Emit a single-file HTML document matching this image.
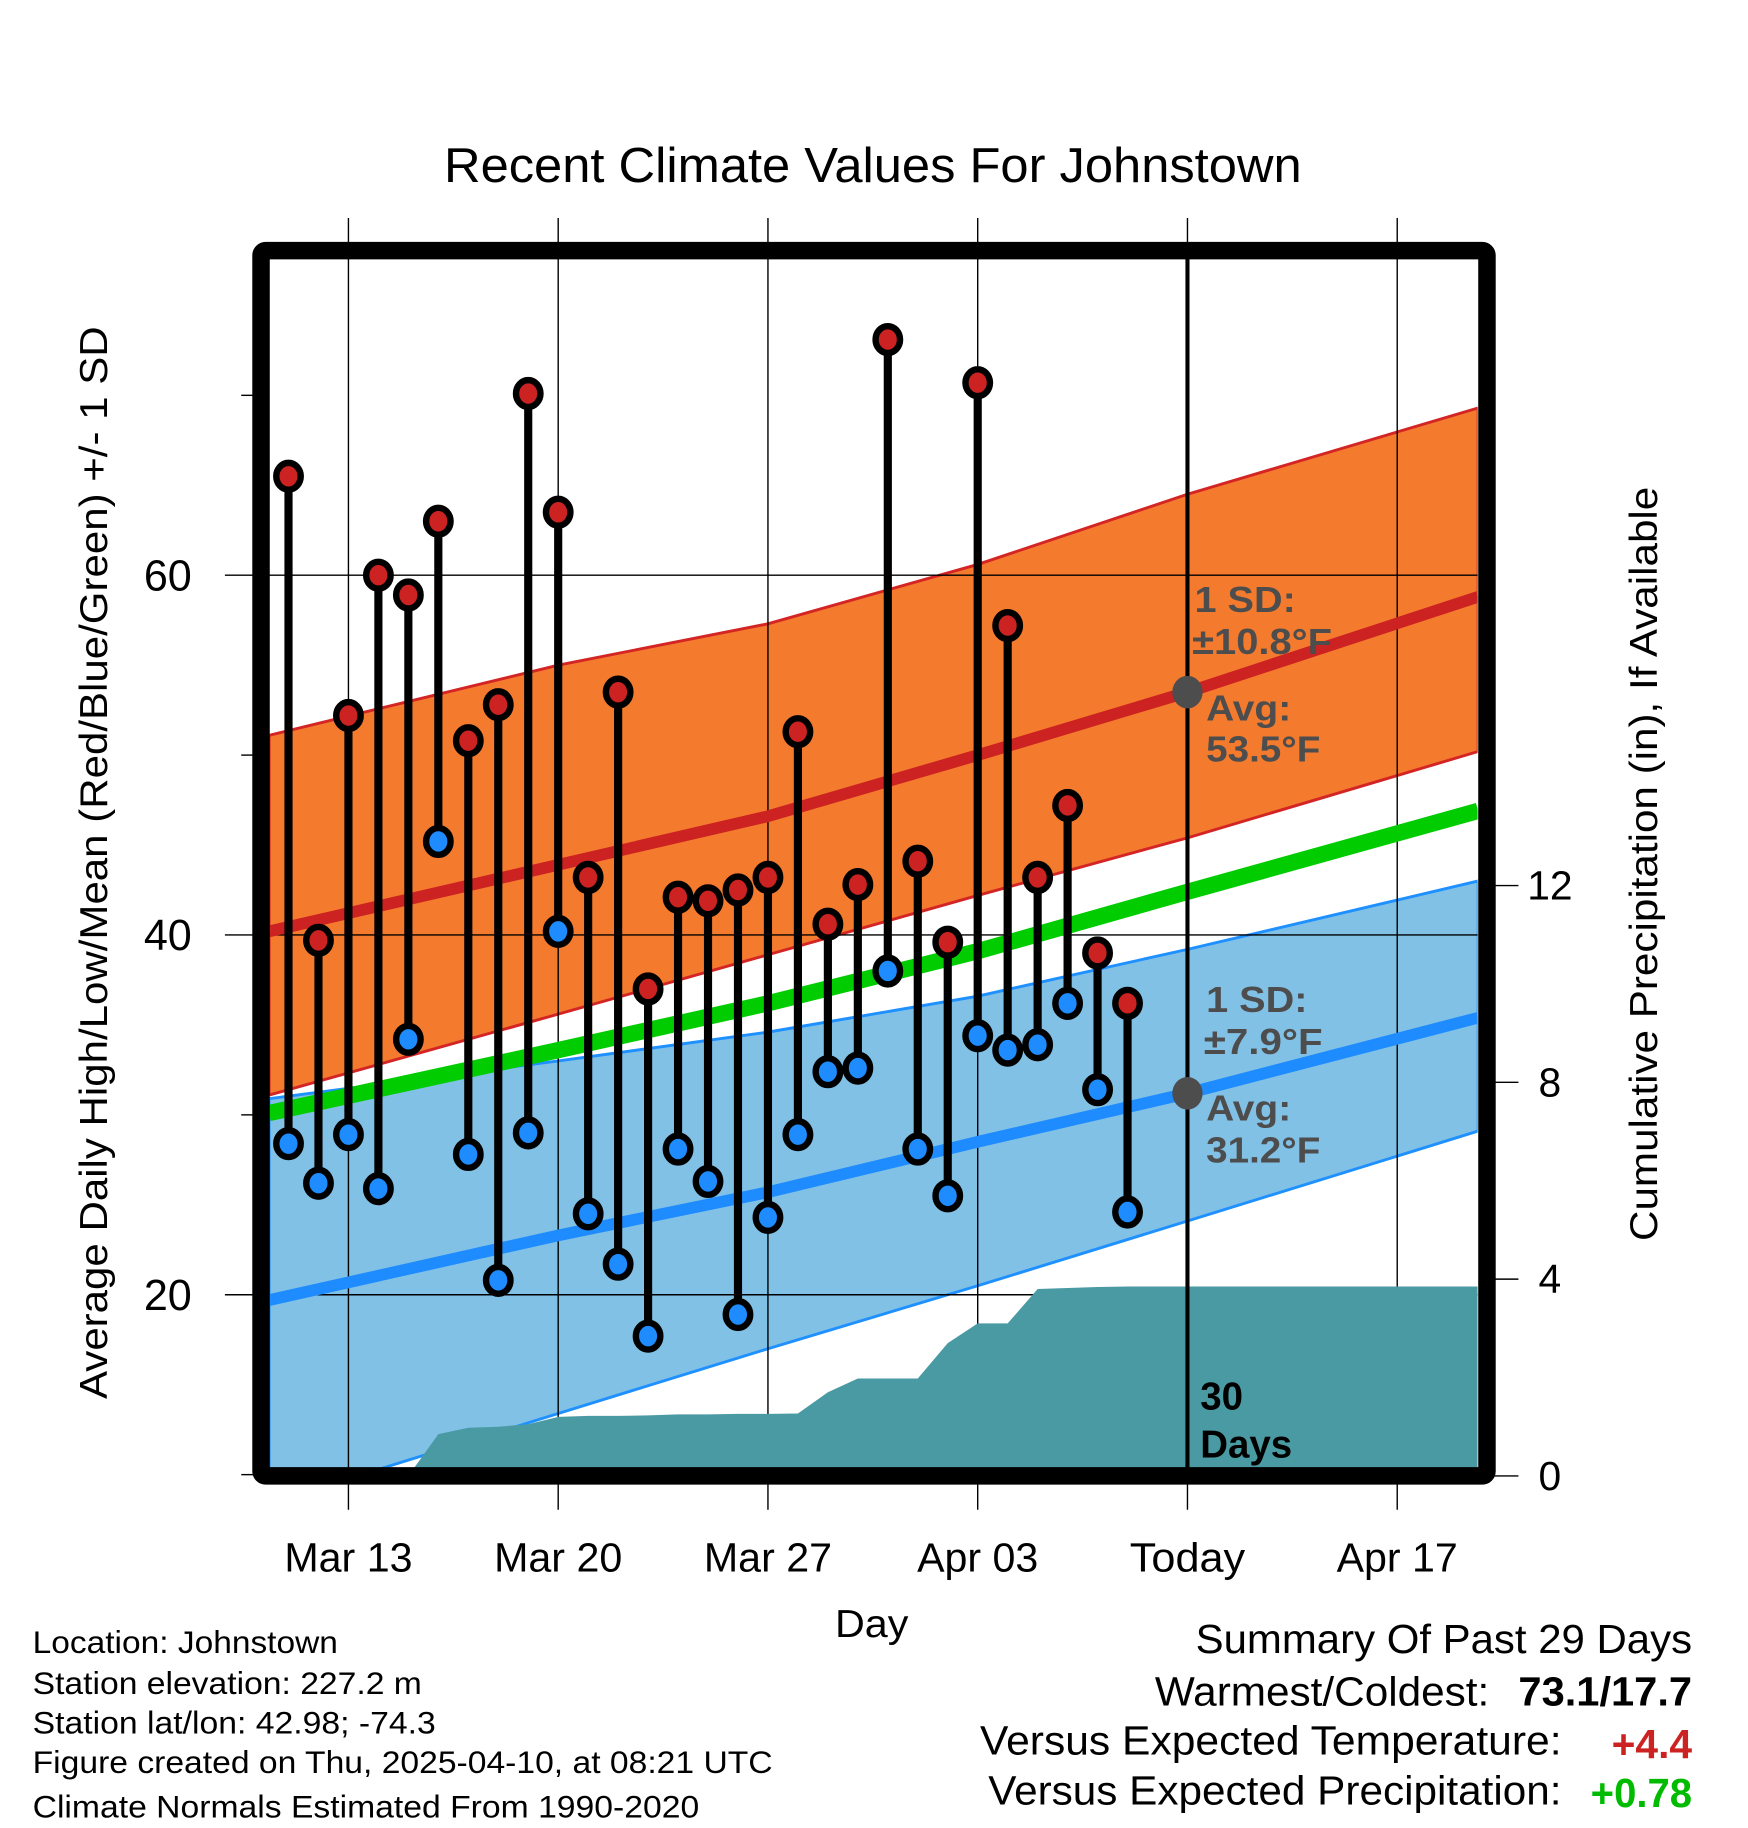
<!DOCTYPE html>
<html><head><meta charset="utf-8"><style>
html,body{margin:0;padding:0;background:#fff;}
svg{display:block;font-family:"Liberation Sans",Arial,sans-serif;}
</style></head><body>
<svg id="chart" width="1748" height="1828" viewBox="0 0 1500 1568" preserveAspectRatio="none" xmlns="http://www.w3.org/2000/svg">
<g id="bands"></g>
<g id="grid"></g>
<g id="precip"></g>
<g id="lines"></g>
<g id="stems"></g>
<g id="annot"></g>
<g id="frame"></g>
<g id="labels"></g>
</svg>
<script>
// ---- data ----
const dayLabels = ["Mar 11","Mar 12","Mar 13","Mar 14","Mar 15","Mar 16","Mar 17","Mar 18","Mar 19","Mar 20","Mar 21","Mar 22","Mar 23","Mar 24","Mar 25","Mar 26","Mar 27","Mar 28","Mar 29","Mar 30","Mar 31","Apr 01","Apr 02","Apr 03","Apr 04","Apr 05","Apr 06","Apr 07","Apr 08"];
const dayIndex = [1,2,3,4,5,6,7,8,9,10,11,12,13,14,15,16,17,18,19,20,21,22,23,24,25,26,27,28,29];
const highs = [65.5,39.7,52.2,60.0,58.9,63.0,50.8,52.8,70.1,63.5,43.2,53.5,37.0,42.1,41.9,42.5,43.2,51.3,40.6,42.8,73.1,44.1,39.6,70.7,57.2,43.2,47.2,39.0,36.2];
const lows = [28.4,26.2,28.9,25.9,34.2,45.2,27.8,20.8,29.0,40.2,24.5,21.7,17.7,28.1,26.3,18.9,24.3,28.9,32.4,32.6,38.0,28.1,25.5,34.4,33.6,33.9,36.2,31.4,24.6];
const precipCum = [0,0,0,0,0,0.85,0.98,1.0,1.05,1.2,1.22,1.22,1.23,1.25,1.25,1.26,1.26,1.27,1.7,1.98,1.98,1.98,2.7,3.1,3.1,3.8,3.82,3.84,3.85];
const normDays = [0.35,10,17,24,31,40.7];
const highNormal = [40.2,43.9,46.6,50.0,53.5,58.8];
const highUpper = [51.1,55.0,57.3,60.6,64.5,69.3];
const highLower = [31.1,35.6,38.9,42.2,45.4,50.2];
const lowNormal = [19.7,23.3,25.7,28.5,31.2,35.4];
const lowUpper = [30.9,33.0,34.6,36.6,39.2,43.0];
const lowLower = [8.4,13.4,17.0,20.5,24.1,29.1];
const meanNormal = [30.1,33.6,36.2,39.1,42.4,46.9];
const xTickDays = [3,10,17,24,31,38];
const xTickLabels = ["Mar 13","Mar 20","Mar 27","Apr 03","Today","Apr 17"];
const yTicks = [20,40,60];
const yMinor = [10,30,50,70];
const pTicks = [0,4,8,12];

// ---- axes ----
const L=231,R=1268,T=222,B=1259;
const xs = d => 299 + (d-3)*25.714;
const ys = t => 802 - (t-40)*15.43;
const yp = p => 1266 - p*42.2;
const NS="http://www.w3.org/2000/svg";
function mk(tag, attrs, parent){const e=document.createElementNS(NS,tag);for(const k in attrs)e.setAttribute(k,attrs[k]);parent.appendChild(e);return e;}
const G = id => document.getElementById(id);

function bandPath(up,lo){
  let d="M"+normDays.map((n,i)=>xs(n)+","+ys(up[i])).join(" L");
  for(let i=normDays.length-1;i>=0;i--) d+=" L"+xs(normDays[i])+","+ys(lo[i]);
  return d+"Z";
}
function linePts(v){return normDays.map((n,i)=>xs(n)+","+ys(v[i])).join(" ");}

const clip = mk("clipPath",{id:"pc"},G("chart")); mk("rect",{x:L,y:T,width:R-L,height:B-T},clip);
G("bands").setAttribute("clip-path","url(#pc)");
G("lines").setAttribute("clip-path","url(#pc)");

let e;
e=mk("path",{d:bandPath(highUpper,highLower),fill:"#f47a2e",stroke:"#d42525","stroke-width":2.5},G("bands"));


e=mk("path",{d:bandPath(lowUpper,lowLower),fill:"#82c1e6",stroke:"#1e90ff","stroke-width":2.5},G("bands"));



// grid
xTickDays.forEach((d,i)=>{
  e=mk("line",{x1:xs(d),x2:xs(d),y1:187,y2:1295,stroke:"#000","stroke-width":1.2},G("grid"));
  
  
});
yTicks.forEach(t=>{
  e=mk("line",{x1:193,x2:R,y1:ys(t),y2:ys(t),stroke:"#000","stroke-width":1.2},G("grid"));
  
  
});
yMinor.forEach(t=>{
  e=mk("line",{x1:207,x2:220,y1:ys(t),y2:ys(t),stroke:"#000","stroke-width":1.2},G("grid"));
  
  
});
pTicks.forEach(p=>{
  e=mk("line",{x1:1282,x2:1303,y1:yp(p),y2:yp(p),stroke:"#000","stroke-width":1.2},G("grid"));
  
  
  e=mk("text",{x:1330,y:yp(p)+12,"font-size":35,"text-anchor":"middle"},G("labels"));
  e.textContent=p;
  
  
});

// precip area
let pd="M"+L+","+yp(0)+" L"+xs(dayIndex[0])+","+yp(precipCum[0]);
dayIndex.forEach((d,i)=>{pd+=" L"+xs(d)+","+yp(precipCum[i]);});
pd+=" L"+R+","+yp(precipCum[precipCum.length-1])+" L"+R+","+B+" L"+L+","+B+"Z";
e=mk("path",{d:pd,fill:"#4a9aa3"},G("precip"));


G("precip").setAttribute("clip-path","url(#pc)");

// normal lines
e=mk("polyline",{points:linePts(meanNormal),fill:"none",stroke:"#00cc00","stroke-width":14},G("lines"));


e=mk("polyline",{points:linePts(highNormal),fill:"none",stroke:"#cc2222","stroke-width":10},G("lines"));


e=mk("polyline",{points:linePts(lowNormal),fill:"none",stroke:"#1e8cff","stroke-width":10},G("lines"));



// today line
e=mk("line",{x1:xs(31),x2:xs(31),y1:T,y2:B,stroke:"#000","stroke-width":3.5},G("lines"));



// stems + markers
dayIndex.forEach((d,i)=>{
  const x=xs(d);
  e=mk("line",{x1:x,x2:x,y1:ys(highs[i]),y2:ys(lows[i]),stroke:"#000","stroke-width":7},G("stems"));
  
  
  e=mk("ellipse",{cx:x,cy:ys(highs[i]),rx:10.5,ry:11.5,fill:"#cc2222",stroke:"#000","stroke-width":5.5},G("stems"));
  
  
  e=mk("ellipse",{cx:x,cy:ys(lows[i]),rx:10.5,ry:11.5,fill:"#1e8cff",stroke:"#000","stroke-width":5.5},G("stems"));
  
  
});

// annotations
const ax=xs(31);
[[53.5,'high-avg-dot'],[31.2,'low-avg-dot']].forEach(a=>{
  e=mk("ellipse",{cx:ax,cy:ys(a[0]),rx:13,ry:14,fill:"#4d4d4d"},G("annot"));
  
  
});
const ann=[[1025,525,"1 SD:",87],[1023,561,"±10.8°F",120],[1035,618,"Avg:",73],[1035,653,"53.5°F",98],[1035,868,"1 SD:",87],[1033,904,"±7.9°F",102],[1035,961,"Avg:",73],[1035,997,"31.2°F",98]];
ann.forEach(a=>{
  e=mk("text",{x:a[0],y:a[1],"font-size":31,"font-weight":"bold",fill:"#4d4d4d",textLength:a[3],lengthAdjust:"spacingAndGlyphs"},G("annot"));
  e.textContent=a[2];
  
  
});
[[1030,1209,"30"],[1030,1250,"Days"]].forEach(a=>{
  e=mk("text",{x:a[0],y:a[1],"font-size":33,"font-weight":"bold",fill:"#000"},G("annot"));
  e.textContent=a[2];
  
  
});

// frame
e=mk("rect",{x:224,y:215,width:1052,height:1051,fill:"none",stroke:"#000","stroke-width":15,rx:4},G("frame"));



function txt(x,y,s,str,name,extra,len){
  const a=Object.assign({x:x,y:y,"font-size":s},extra||{});
  if(len){a.textLength=len;a.lengthAdjust="spacingAndGlyphs";}
  const t=mk("text",a,G("labels"));t.textContent=str;
  
  
  return t;
}
// x tick labels
const xTickLen=[110,110,110,104,99,104];
xTickDays.forEach((d,i)=>{
  txt(xs(d),1348,35,xTickLabels[i],"x-tick-label",{"text-anchor":"middle"},xTickLen[i]);
});
yTicks.forEach(t=>{
  txt(144,ys(t)+13,37,String(t),"y-tick-label",{"text-anchor":"middle"});
});

txt(749,156,42,"Recent Climate Values For Johnstown","chart-title",{"text-anchor":"middle"},736);
txt(0,0,33,"Average Daily High/Low/Mean (Red/Blue/Green) +/- 1 SD","y-axis-title",{"text-anchor":"middle",transform:"translate(92,740) rotate(-90)"},920);
txt(0,0,33,"Cumulative Precipitation (in), If Available","y2-axis-title",{"text-anchor":"middle",transform:"translate(1422,741) rotate(-90)"},647);
txt(748,1404,33,"Day","x-axis-title",{"text-anchor":"middle"},63);
const foot=["Location: Johnstown","Station elevation: 227.2 m","Station lat/lon: 42.98; -74.3","Figure created on Thu, 2025-04-10, at 08:21 UTC","Climate Normals Estimated From 1990-2020"];
const footLen=[262,334,346,635,572];
const footY=[1418,1453,1487,1521,1559];
foot.forEach((s,i)=>txt(28,footY[i],27,s,"footer-info",null,footLen[i]));
txt(1452,1418,35,"Summary Of Past 29 Days","summary-title",{"text-anchor":"end"},426);
txt(1278,1463,35,"Warmest/Coldest:","summary-label",{"text-anchor":"end"},287);
txt(1452,1463,35,"73.1/17.7","warmest-coldest-value",{"text-anchor":"end","font-weight":"bold"},149);
txt(1340,1505,35,"Versus Expected Temperature:","summary-label",{"text-anchor":"end"},499);
txt(1452,1508,35,"+4.4","temp-anomaly-value",{"text-anchor":"end","font-weight":"bold",fill:"#cc2222"},69);
txt(1340,1548,35,"Versus Expected Precipitation:","summary-label",{"text-anchor":"end"},492);
txt(1452,1550,35,"+0.78","precip-anomaly-value",{"text-anchor":"end","font-weight":"bold",fill:"#00bb00"},87);
</script>
</body></html>
